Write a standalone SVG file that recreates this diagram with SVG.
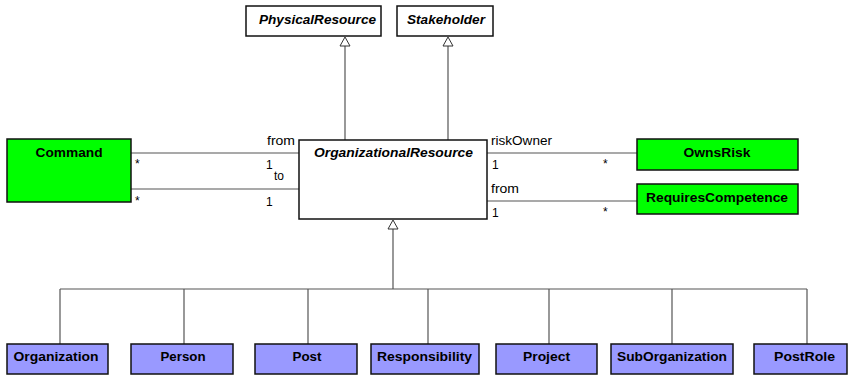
<svg xmlns="http://www.w3.org/2000/svg" width="848" height="375" viewBox="0 0 848 375">
<style>
.box{stroke:#111;stroke-width:1.5}
.white{fill:#fff}
.green{fill:#00ff00}
.purple{fill:#9999ff}
.name{font-family:"Liberation Sans",Arial,sans-serif;font-size:12px;font-weight:bold;text-anchor:middle;fill:#000}
.it{font-style:italic}
.lbl{font-family:"Liberation Sans",Arial,sans-serif;font-size:12px;fill:#000}
.conn{stroke:#555;stroke-width:1.2;fill:none}
.tri{fill:#fff;stroke:#333;stroke-width:1}
</style>
<rect width="848" height="375" fill="#fff"/>
<g id="connectors">
<path class="conn" d="M345,46 V140 M448,46 V140"/>
<polygon class="tri" points="345,37 340,46 350,46"/>
<polygon class="tri" points="448,37 443,46 453,46"/>
<path class="conn" d="M131,153 H299 M131,189 H299"/>
<path class="conn" d="M487,153 H637 M487,201 H637"/>
<path class="conn" d="M393,229 V289 M60,289 H807 M60,289 V344 M184,289 V344 M308,289 V344 M428,289 V344 M549,289 V344 M672,289 V344 M807,289 V344"/>
<polygon class="tri" points="393,220 388,229 398,229"/>
<text class="lbl" x="267" y="145" textLength="28" lengthAdjust="spacingAndGlyphs">from</text>
<text class="lbl" x="135" y="168">*</text>
<text class="lbl" x="266" y="169">1</text>
<text class="lbl" x="274" y="180">to</text>
<text class="lbl" x="135" y="205">*</text>
<text class="lbl" x="266" y="206">1</text>
<text class="lbl" x="491" y="145" textLength="61" lengthAdjust="spacingAndGlyphs">riskOwner</text>
<text class="lbl" x="492" y="169">1</text>
<text class="lbl" x="603" y="168">*</text>
<text class="lbl" x="491" y="193" textLength="28" lengthAdjust="spacingAndGlyphs">from</text>
<text class="lbl" x="492" y="217">1</text>
<text class="lbl" x="603" y="216">*</text>
</g>
<g id="PhysicalResource"><rect class="box white" x="246" y="6" width="135" height="30"/><text class="name it" x="317.5" y="24" textLength="117" lengthAdjust="spacingAndGlyphs">PhysicalResource</text></g>
<g id="Stakeholder"><rect class="box white" x="397" y="6" width="96" height="30"/><text class="name it" x="446" y="24" textLength="78" lengthAdjust="spacingAndGlyphs">Stakeholder</text></g>
<g id="OrganizationalResource"><rect class="box white" x="299" y="140" width="188" height="79"/><text class="name it" x="393.5" y="157" textLength="159" lengthAdjust="spacingAndGlyphs">OrganizationalResource</text></g>
<g id="Command"><rect class="box green" x="7" y="139" width="124" height="63"/><text class="name" x="69" y="157" textLength="67" lengthAdjust="spacingAndGlyphs">Command</text></g>
<g id="OwnsRisk"><rect class="box green" x="637" y="139" width="161" height="31"/><text class="name" x="717" y="157" textLength="67" lengthAdjust="spacingAndGlyphs">OwnsRisk</text></g>
<g id="RequiresCompetence"><rect class="box green" x="637" y="184" width="161" height="30"/><text class="name" x="717" y="202" textLength="142" lengthAdjust="spacingAndGlyphs">RequiresCompetence</text></g>
<g id="Organization"><rect class="box purple" x="7" y="344" width="101" height="30"/><text class="name" x="56" y="361" textLength="85" lengthAdjust="spacingAndGlyphs">Organization</text></g>
<g id="Person"><rect class="box purple" x="131" y="344" width="102" height="30"/><text class="name" x="183" y="361" textLength="45" lengthAdjust="spacingAndGlyphs">Person</text></g>
<g id="Post"><rect class="box purple" x="255" y="344" width="102" height="30"/><text class="name" x="307" y="361" textLength="29" lengthAdjust="spacingAndGlyphs">Post</text></g>
<g id="Responsibility"><rect class="box purple" x="371" y="344" width="108" height="30"/><text class="name" x="424.5" y="361" textLength="95" lengthAdjust="spacingAndGlyphs">Responsibility</text></g>
<g id="Project"><rect class="box purple" x="496" y="344" width="101" height="30"/><text class="name" x="546.5" y="361" textLength="47" lengthAdjust="spacingAndGlyphs">Project</text></g>
<g id="SubOrganization"><rect class="box purple" x="611" y="344" width="122" height="30"/><text class="name" x="672" y="361" textLength="110" lengthAdjust="spacingAndGlyphs">SubOrganization</text></g>
<g id="PostRole"><rect class="box purple" x="754" y="344" width="93" height="30"/><text class="name" x="804.5" y="361" textLength="61" lengthAdjust="spacingAndGlyphs">PostRole</text></g>
</svg>
